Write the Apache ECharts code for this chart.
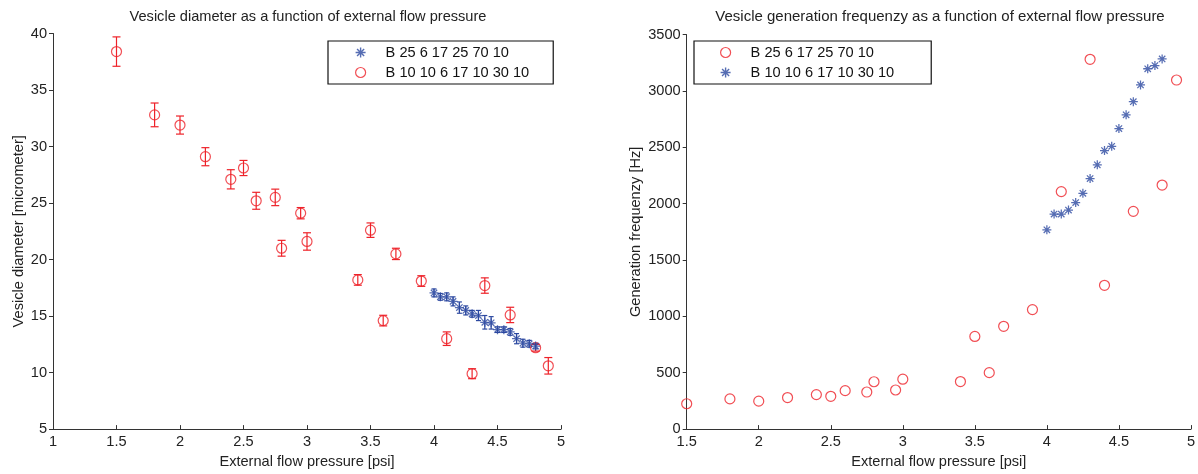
<!DOCTYPE html>
<html>
<head>
<meta charset="utf-8">
<title>Vesicle diameter and generation frequency</title>
<script src="https://cdn.jsdelivr.net/npm/echarts@6/dist/echarts.min.js"></script>
<style>
  html, body { margin: 0; padding: 0; background: #fff; }
  #chart { width: 1198px; height: 474px; }
</style>
</head>
<body>
<div id="chart"></div>
<script>
// External flow pressure [psi] for the coarse sweep (circles)
const pressureCoarse = [1.5, 1.8, 2.0, 2.2, 2.4, 2.5, 2.6, 2.75, 2.8, 2.95, 3.0,
                        3.4, 3.5, 3.6, 3.7, 3.9, 4.1, 4.3, 4.4, 4.6, 4.8, 4.9];
// External flow pressure [psi] for the fine sweep (asterisks)
const pressureFine = [4.0, 4.05, 4.1, 4.15, 4.2, 4.25, 4.3, 4.35, 4.4,
                      4.45, 4.5, 4.55, 4.6, 4.65, 4.7, 4.75, 4.8];

// Vesicle diameter [micrometer], coarse sweep, with standard deviation
const diameterCoarse = [38.4, 32.8, 31.9, 29.1, 27.1, 28.1, 25.2, 25.5, 21.0, 24.1, 21.6,
                        18.2, 22.6, 14.6, 20.5, 18.1, 13.0, 9.9, 17.7, 15.1, 12.2, 10.6];
const diameterCoarseErr = [1.3, 1.05, 0.8, 0.8, 0.85, 0.67, 0.75, 0.73, 0.7, 0.5, 0.77,
                           0.47, 0.64, 0.47, 0.5, 0.47, 0.6, 0.44, 0.68, 0.68, 0.3, 0.73];

// Vesicle diameter [micrometer], fine sweep, with standard deviation
const diameterFine = [17.05, 16.7, 16.7, 16.3, 15.75, 15.5, 15.2, 15.05, 14.45,
                      14.4, 13.8, 13.8, 13.6, 13.0, 12.6, 12.55, 12.35];
const diameterFineErr = [0.35, 0.3, 0.35, 0.4, 0.5, 0.4, 0.3, 0.45, 0.6,
                         0.55, 0.25, 0.25, 0.3, 0.45, 0.35, 0.3, 0.25];

// Generation frequency [Hz]
const frequencyCoarse = [225, 268, 248, 280, 306, 291, 341, 329, 420, 347, 443,
                         422, 822, 501, 912, 1060, 2107, 3281, 1276, 1932, 2165, 3097];
const frequencyFine = [1768, 1908, 1908, 1943, 2010, 2092, 2223, 2345, 2471,
                       2509, 2666, 2788, 2905, 3053, 3197, 3225, 3284];

// Legend entries (the two panels list the devices in different orders)
const nameA = 'B 25 6 17 25 70 10';
const nameB = 'B 10 10 6 17 10 30 10';

const titles = [
  'Vesicle diameter as a function of external flow pressure',
  'Vesicle generation frequenzy as a function of external flow pressure'
];
const xAxisName = 'External flow pressure [psi]';
const yAxisNames = ['Vesicle diameter [micrometer]', 'Generation frequenzy [Hz]'];

const RED = '#ee2229';
const BLUE = '#2c48a0';
const FONT = '"Liberation Sans", Arial, Helvetica, sans-serif';
const FS = 14.6;

// Asterisk marker: horizontal, vertical and both diagonal bars
function asteriskPath(r, t) {
  const c = 10;
  let d = '';
  [0, 45, 90, 135].forEach(function (a) {
    const rad = a * Math.PI / 180;
    const dx = Math.cos(rad), dy = Math.sin(rad), nx = -dy, ny = dx;
    const pts = [
      [r * dx + t * nx, r * dy + t * ny],
      [-r * dx + t * nx, -r * dy + t * ny],
      [-r * dx - t * nx, -r * dy - t * ny],
      [r * dx - t * nx, r * dy - t * ny]
    ];
    d += 'M' + pts.map(function (p) {
      return (c + p[0]).toFixed(2) + ' ' + (c + p[1]).toFixed(2);
    }).join('L') + 'Z';
  });
  return 'path://' + d;
}
const STAR = asteriskPath(10, 1.4);

function zip(xs, ys) {
  return xs.map(function (x, i) { return [x, ys[i]]; });
}
function errorData(xs, ys, es) {
  return xs.map(function (x, i) { return [x, ys[i] - es[i], ys[i] + es[i]]; });
}

// Vertical error bar with horizontal caps
function errorBarRenderer(color, capHalf) {
  return function (params, api) {
    const x = api.value(0);
    const lo = api.coord([x, api.value(1)]);
    const hi = api.coord([x, api.value(2)]);
    const style = { stroke: color, lineWidth: 1.2 };
    return {
      type: 'group',
      children: [
        { type: 'line', shape: { x1: lo[0], y1: lo[1], x2: hi[0], y2: hi[1] }, style: style },
        { type: 'line', shape: { x1: lo[0] - capHalf, y1: lo[1], x2: lo[0] + capHalf, y2: lo[1] }, style: style },
        { type: 'line', shape: { x1: hi[0] - capHalf, y1: hi[1], x2: hi[0] + capHalf, y2: hi[1] }, style: style }
      ]
    };
  };
}

// Plain numbers on the ticks, no thousands separators
function plainLabel(v) { return String(v); }

function valueAxis(extra) {
  return Object.assign({
    type: 'value',
    splitLine: { show: false },
    axisLine: { show: true, lineStyle: { color: '#333', width: 1 } },
    nameTextStyle: { color: '#222', fontSize: FS, fontFamily: FONT }
  }, extra);
}

const circleStyle = { color: 'transparent', borderColor: RED, borderWidth: 1.2 };
const titleStyle = { fontSize: FS, fontWeight: 'normal', color: '#222', fontFamily: FONT };
const legendText = { fontSize: FS, color: '#111', fontFamily: FONT, padding: [0, 0, 0, 7] };

const option = {
  animation: false,
  backgroundColor: '#fff',
  title: [
    { text: titles[0], left: 308, top: 9, textAlign: 'center', padding: 0, textStyle: titleStyle },
    { text: titles[1], left: 940, top: 9, textAlign: 'center', padding: 0,
      textStyle: Object.assign({}, titleStyle, { fontSize: 15 }) }
  ],
  legend: [
    {
      left: 328, top: 41, orient: 'vertical',
      itemWidth: 26, itemHeight: 10, itemGap: 5,
      padding: [4, 24, 4, 27],
      borderColor: '#111', borderWidth: 1.2, backgroundColor: '#fff',
      selectedMode: false,
      textStyle: legendText,
      data: [
        { name: nameA, icon: STAR, itemStyle: { color: BLUE, borderWidth: 0 } },
        { name: nameB, icon: 'circle', itemStyle: circleStyle }
      ]
    },
    {
      left: 694, top: 41, orient: 'vertical',
      itemWidth: 26, itemHeight: 10, itemGap: 5,
      padding: [4, 37, 4, 26],
      borderColor: '#111', borderWidth: 1.2, backgroundColor: '#fff',
      selectedMode: false,
      textStyle: legendText,
      data: [
        { name: nameA, icon: 'circle', itemStyle: circleStyle },
        { name: nameB, icon: STAR, itemStyle: { color: BLUE, borderWidth: 0 } }
      ]
    }
  ],
  grid: [
    { left: 53, top: 33.5, width: 508, height: 401.5 },
    { left: 686.7, top: 34.6, width: 507.5, height: 400.4 }
  ],
  xAxis: [
    valueAxis({
      gridIndex: 0, min: 1, max: 5, interval: 0.5,
      name: xAxisName, nameLocation: 'middle', nameGap: 21,
      axisTick: { inside: true, length: 4, lineStyle: { color: '#333' } },
      axisLabel: { color: '#222', fontSize: FS, fontFamily: FONT, margin: 5, formatter: plainLabel }
    }),
    valueAxis({
      gridIndex: 1, min: 1.5, max: 5, interval: 0.5,
      name: xAxisName, nameLocation: 'middle', nameGap: 21,
      axisTick: { inside: true, length: 4, lineStyle: { color: '#333' } },
      axisLabel: { color: '#222', fontSize: FS, fontFamily: FONT, margin: 5, formatter: plainLabel }
    })
  ],
  yAxis: [
    valueAxis({
      gridIndex: 0, min: 5, max: 40, interval: 5,
      name: yAxisNames[0], nameLocation: 'middle', nameGap: 27,
      axisTick: { inside: false, length: 4, lineStyle: { color: '#333' } },
      axisLabel: { color: '#222', fontSize: FS, fontFamily: FONT, margin: 6, formatter: plainLabel }
    }),
    valueAxis({
      gridIndex: 1, min: 0, max: 3500, interval: 500,
      name: yAxisNames[1], nameLocation: 'middle', nameGap: 43,
      axisTick: { inside: false, length: 4, lineStyle: { color: '#333' } },
      axisLabel: { color: '#222', fontSize: FS, fontFamily: FONT, margin: 6, formatter: plainLabel }
    })
  ],
  series: [
    // Left panel: diameter
    {
      type: 'custom', name: nameB + ' err', xAxisIndex: 0, yAxisIndex: 0,
      renderItem: errorBarRenderer(RED, 4), encode: { x: 0, y: [1, 2] },
      data: errorData(pressureCoarse, diameterCoarse, diameterCoarseErr), z: 2
    },
    {
      type: 'scatter', name: nameB, xAxisIndex: 0, yAxisIndex: 0,
      symbol: 'circle', symbolSize: 10, itemStyle: circleStyle,
      data: zip(pressureCoarse, diameterCoarse), z: 3
    },
    {
      type: 'custom', name: nameA + ' err', xAxisIndex: 0, yAxisIndex: 0,
      renderItem: errorBarRenderer(BLUE, 2.5), encode: { x: 0, y: [1, 2] },
      data: errorData(pressureFine, diameterFine, diameterFineErr), z: 2
    },
    {
      type: 'scatter', name: nameA, xAxisIndex: 0, yAxisIndex: 0,
      symbol: STAR, symbolSize: 9, itemStyle: { color: BLUE },
      data: zip(pressureFine, diameterFine), z: 4
    },
    // Right panel: generation frequency
    {
      type: 'scatter', name: nameA, xAxisIndex: 1, yAxisIndex: 1,
      symbol: 'circle', symbolSize: 10, itemStyle: circleStyle,
      data: zip(pressureCoarse, frequencyCoarse), z: 3
    },
    {
      type: 'scatter', name: nameB, xAxisIndex: 1, yAxisIndex: 1,
      symbol: STAR, symbolSize: 9, itemStyle: { color: BLUE },
      data: zip(pressureFine, frequencyFine), z: 4
    }
  ]
};

const chart = echarts.init(document.getElementById('chart'), null, { renderer: 'canvas' });
chart.setOption(option);
</script>
</body>
</html>
